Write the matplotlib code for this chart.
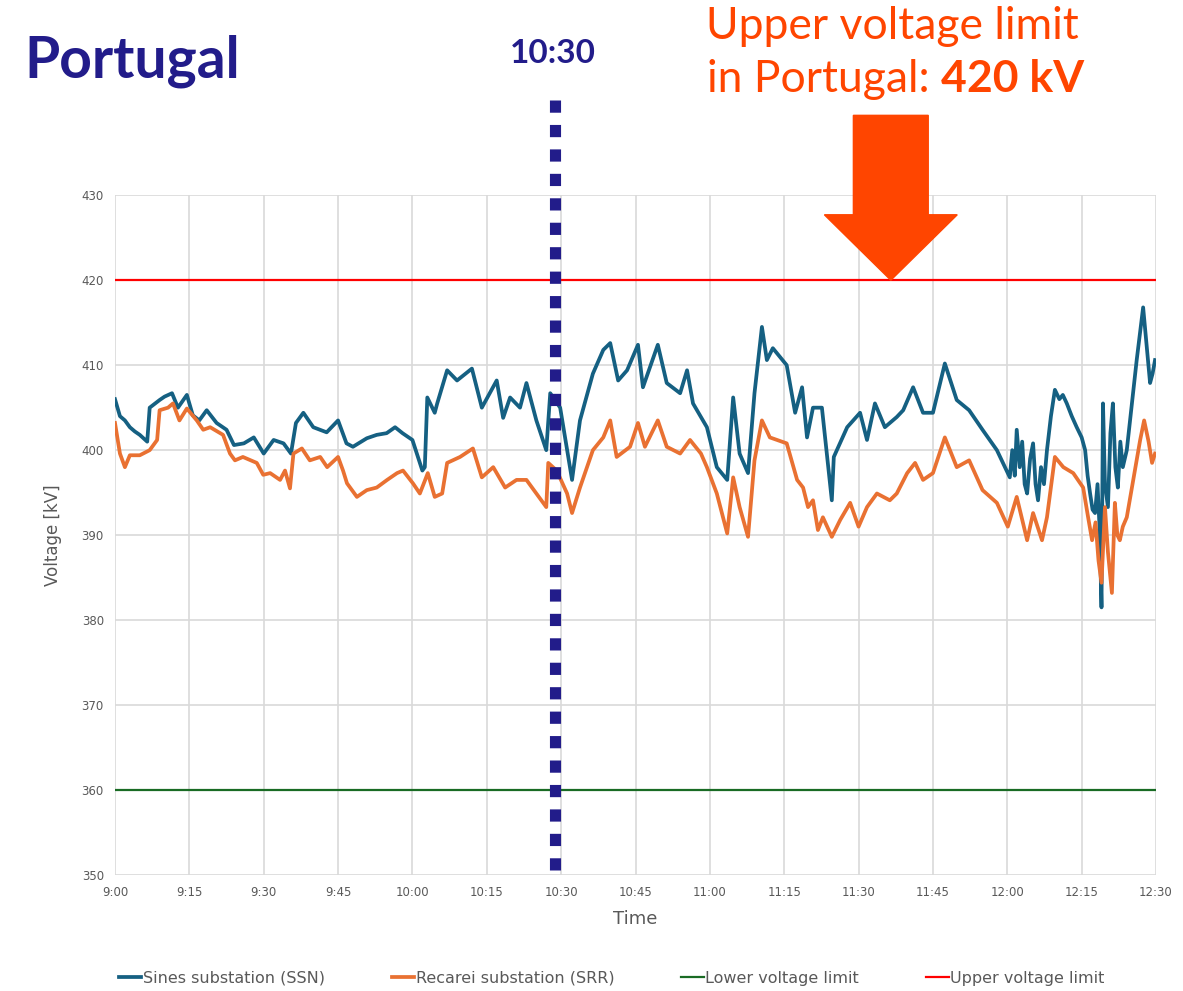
import matplotlib
matplotlib.use("Agg")
import matplotlib.pyplot as plt
import matplotlib.patches as mpatches

# minutes after 9:00 and voltage in kV
ssn_t = [0, 1, 2, 3, 4, 5, 6.5, 7, 9, 10, 11.5, 12.7, 14.5, 15.7, 17, 18.5, 20.5, 22.5, 24, 26,
         28, 30, 32, 34, 35.5, 36.5, 38, 40, 42.7, 45, 46.7, 48, 50.8, 52.8, 54.8, 56.5, 58, 60,
         62, 62.5, 63, 64.5, 65, 67, 69, 72, 74, 77, 78.3, 79.7, 81.7, 83, 85, 87, 87.8, 89.8,
         92.2, 93.8, 96.4, 98.5, 99.9, 101.5, 103.3, 105.5, 106.5, 109.5, 111.3, 114, 115.4,
         116.6, 119.4, 121.4, 123.5, 124.7, 126, 127.7, 129, 130.5, 131.5, 132.7, 135.5, 137.2,
         138.6, 139.6, 140.8, 142.6, 143.6, 144.6, 145, 147.7, 150.3, 151.7, 153.3, 155.3, 157.7,
         159, 161, 163, 165, 167.4, 169.8, 172.3, 175, 177.9, 180.5, 181, 181.5, 181.9, 182.5,
         183, 183.5, 184, 184.6, 185.2, 185.7, 186.2, 186.8, 187.4, 188, 188.8, 189.6, 190.5,
         191.2, 192, 193, 194, 195, 195.7, 196.2, 196.7, 197.2, 197.7, 198.2, 198.6, 199, 199.3,
         199.7, 200.3, 200.8, 201.3, 201.8, 202.3, 202.8, 203.3, 204.1, 206.1, 207.4, 208.8,
         209.3, 209.8]
ssn_v = [406, 404, 403.5, 402.7, 402.2, 401.8, 401, 405, 405.9, 406.3, 406.7, 405, 406.5, 404.1,
         403.5, 404.7, 403.2, 402.4, 400.6, 400.8, 401.5, 399.6, 401.2, 400.8, 399.6, 403.2,
         404.4, 402.7, 402.1, 403.5, 400.8, 400.4, 401.4, 401.8, 402, 402.7, 402, 401.2, 397.6,
         398, 406.2, 404.4, 405.5, 409.4, 408.2, 409.6, 405, 408.2, 403.8, 406.2, 405, 407.9,
         403.5, 400, 406.7, 405, 396.5, 403.5, 409, 411.8, 412.6, 408.2, 409.4, 412.4, 407.4,
         412.4, 407.9, 406.7, 409.4, 405.5, 402.7, 398, 396.5, 406.2, 399.6, 397.3, 406.7, 414.5,
         410.6, 412, 410, 404.4, 407.4, 401.5, 405, 405, 399.6, 394.1, 399.2, 402.7, 404.4, 401.2,
         405.5, 402.7, 403.9, 404.7, 407.4, 404.4, 404.4, 410.2, 405.9, 404.7, 402.4, 400, 396.8,
         400, 397, 402.4, 398, 401, 396, 394.9, 399, 400.8, 396, 394.1, 398, 396, 400, 404, 407.1,
         406, 406.5, 405.5, 404, 402.7, 401.5, 400, 397, 394.9, 393, 392.6, 396, 391, 381.5,
         405.5, 396, 393.3, 402, 405.5, 398, 395.6, 401, 398, 400, 410.6, 416.8, 407.9, 409,
         410.6]

srr_t = [0, 1, 2, 3, 5, 7, 8.5, 9, 10.7, 11.7, 13, 14.5, 16.5, 17.8, 19.2, 21.8, 23.2, 24.2, 25.8,
         28.6, 29.9, 31.3, 33.3, 34.3, 35.3, 36, 37.7, 39.3, 41.4, 42.8, 45, 46, 46.8, 48.8, 50.8,
         52.8, 54.9, 56.9, 58.1, 60.1, 61.5, 63.1, 64.5, 66, 67, 69.6, 72.2, 74, 76.3, 78.7, 81,
         83, 85, 87, 87.4, 89.1, 91.2, 92.2, 93.8, 96.4, 98.5, 99.9, 101.2, 103.9, 105.5, 106.9,
         109.5, 111.3, 114, 116, 118.2, 119.4, 121.4, 123.5, 124.7, 126, 127.7, 129, 130.5, 132.1,
         135.5, 137.6, 138.8, 139.8, 140.8, 141.8, 142.8, 144.6, 146.3, 148.3, 150, 151.7, 153.7,
         156.3, 157.7, 159.8, 161.4, 163, 165, 167.4, 169.8, 172.3, 175, 177.9, 180.1, 181.9, 184,
         185.2, 187, 188, 189.6, 191.3, 193.3, 195.3, 196.3, 197.1, 197.8, 198.4, 199, 199.7,
         200.3, 201.1, 201.7, 202.2, 202.7, 203.3, 204.1, 205.4, 206.8, 207.6, 208.5, 209.2,
         209.8]
srr_v = [403.2, 399.6, 398, 399.4, 399.4, 400, 401.2, 404.7, 405, 405.5, 403.5, 404.9, 403.5,
         402.4, 402.7, 401.8, 399.6, 398.8, 399.2, 398.5, 397.1, 397.3, 396.5, 397.6, 395.5,
         399.6, 400.2, 398.8, 399.2, 398, 399.2, 397.6, 396.1, 394.5, 395.3, 395.6, 396.5, 397.3,
         397.6, 396.1, 394.9, 397.3, 394.5, 394.9, 398.5, 399.2, 400.2, 396.8, 398, 395.6, 396.5,
         396.5, 394.9, 393.3, 398.5, 397.6, 394.9, 392.6, 395.6, 400, 401.5, 403.5, 399.2, 400.4,
         403.2, 400.4, 403.5, 400.4, 399.6, 401.2, 399.6, 398, 394.9, 390.2, 396.8, 393.3, 389.8,
         398.8, 403.5, 401.5, 400.8, 396.5, 395.6, 393.3, 394.1, 390.6, 392.1, 389.8, 391.8,
         393.8, 391, 393.3, 394.9, 394.1, 394.9, 397.3, 398.5, 396.5, 397.3, 401.5, 398, 398.8,
         395.3, 393.8, 391, 394.5, 389.4, 392.6, 389.4, 392.1, 399.2, 398, 397.3, 395.6, 392.1,
         389.4, 391.5, 387, 384.4, 393.3, 388, 383.2, 393.8, 390, 389.4, 391, 392.1, 396.5,
         401.2, 403.5, 401, 398.5, 399.6]

lower_limit = 360
upper_limit = 420
tick_minutes = [0, 15, 30, 45, 60, 75, 90, 105, 120, 135, 150, 165, 180, 195, 210]
tick_labels = ["9:00", "9:15", "9:30", "9:45", "10:00", "10:15", "10:30", "10:45",
               "11:00", "11:15", "11:30", "11:45", "12:00", "12:15", "12:30"]
marker_time = 88.8   # dotted "10:30" marker as drawn on the slide

fig = plt.figure(figsize=(11.83, 9.91), dpi=100)
ax = fig.add_axes([0.0972, 0.117, 0.88, 0.686])

grey = '#595959'
ax.plot(ssn_t, ssn_v, color='#156082', lw=2.7, label='Sines substation (SSN)', zorder=3)
ax.plot(srr_t, srr_v, color='#E97132', lw=2.7, label='Recarei substation (SRR)', zorder=3)
ax.axhline(lower_limit, color='#196B24', lw=1.6, label='Lower voltage limit', zorder=2)
ax.axhline(upper_limit, color='#FF0000', lw=1.6, label='Upper voltage limit', zorder=2)

ax.set_xlim(0, 210)
ax.set_ylim(350, 430)
ax.set_xticks(tick_minutes)
ax.set_xticklabels(tick_labels)
ax.set_yticks(range(350, 431, 10))
ax.grid(True, color='#d9d9d9', lw=1.2)
ax.set_axisbelow(True)
for s in ax.spines.values():
    s.set_visible(False)
ax.tick_params(length=0, labelsize=8.5, colors=grey, pad=8)
ax.set_xlabel('Time', fontsize=13, color=grey, labelpad=8)
ax.set_ylabel('Voltage [kV]', fontsize=12, color=grey, labelpad=14)

# dotted marker reaching above the plot
ax.plot([marker_time, marker_time], [350.6, 441.8], color='#221C8A', lw=8,
        dashes=(1.1, 1.1), solid_capstyle='butt', dash_capstyle='butt',
        clip_on=False, zorder=5)

# big arrow pointing at the upper limit
arrow = mpatches.FancyArrow(156.5, 439.4, 0, -19.4, width=15.1, head_width=26.8,
                            head_length=7.7, length_includes_head=True,
                            color='#FF4500', clip_on=False, zorder=5)
ax.add_patch(arrow)

fig.text(0.021, 0.922, 'Portugal', fontsize=41, fontweight='bold', color='#221C8A',
         family='Lato', va='baseline', ha='left')
fig.text(0.467, 0.936, '10:30', fontsize=24, fontweight='bold', color='#221C8A',
         family='Lato', va='baseline', ha='center')
fig.text(0.754, 0.961, 'Upper voltage limit', fontsize=32, color='#FF4500',
         family='Lato', va='baseline', ha='center')
t1 = fig.text(0.598, 0.907, 'in Portugal: ', fontsize=32, color='#FF4500',
              family='Lato', va='baseline', ha='left')
fig.canvas.draw()
bb = t1.get_window_extent()
fig.text(bb.x1 / fig.bbox.width, 0.907, '420 kV', fontsize=32, fontweight='bold',
         color='#FF4500', family='Lato', va='baseline', ha='left')

fig.legend(loc='center', bbox_to_anchor=(0.517, 0.013), ncol=4, frameon=False,
           fontsize=11.5, handlelength=1.4, handletextpad=0.1, columnspacing=4.2,
           labelcolor=grey)

plt.savefig('out.png', dpi=100)
